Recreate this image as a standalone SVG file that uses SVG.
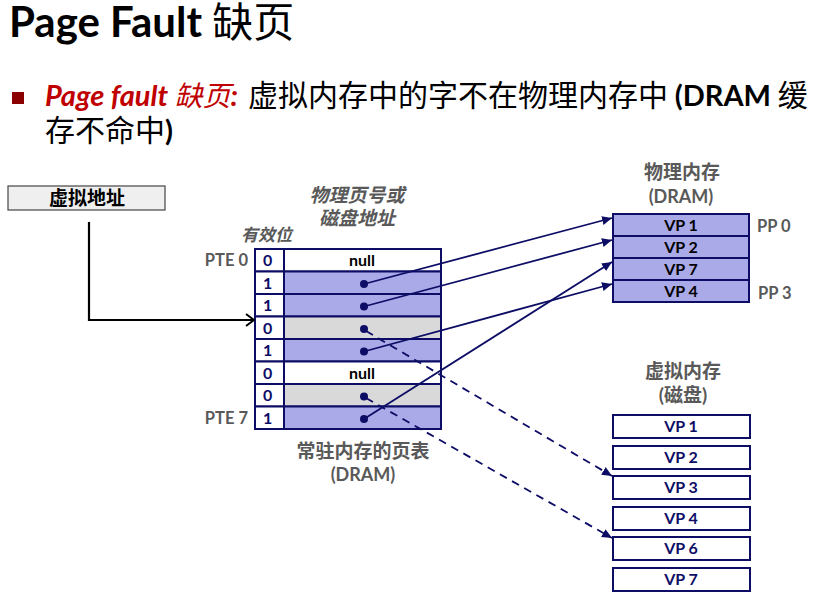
<svg xmlns="http://www.w3.org/2000/svg" width="829" height="602" viewBox="0 0 829 602">
<style>
.lat{font-family:Lato,"Noto Sans CJK SC",sans-serif}
.cjk{font-family:"Noto Sans CJK SC",sans-serif}
.gl{font-family:Lato,"Noto Sans CJK SC",sans-serif;font-weight:bold;fill:#595959}
.cell{stroke:#0d0d66;stroke-width:2}
.b{fill:#aaaae8}
.g{fill:#d9d9d9}
.w{fill:#ffffff}
.bit{font-family:Lato,sans-serif;font-weight:bold;font-size:16px;fill:#0d0d66}
.vp{font-family:Lato,sans-serif;font-weight:bold;font-size:16px;text-anchor:middle}
.con{stroke:#0d0d66;stroke-width:1.8;fill:none}
.dash{stroke-dasharray:8,6}
</style>
<defs>
<marker id="ah" markerUnits="userSpaceOnUse" markerWidth="12" markerHeight="10" refX="10" refY="5" orient="auto">
<path d="M0,0.5 L10,5 L0,9.5 Z" fill="#0d0d66"/>
</marker>
<marker id="open" markerUnits="userSpaceOnUse" markerWidth="12" markerHeight="14" refX="10" refY="7" orient="auto">
<path d="M2,1 L10,7 L2,13" fill="none" stroke="#000" stroke-width="2"/>
</marker>
</defs>
<rect width="829" height="602" fill="#fff"/>

<g id="title">
<text x="9" y="37" class="lat" font-size="42" font-weight="bold" fill="#000">Page Fault <tspan class="cjk" font-weight="normal" font-size="41">缺页</tspan></text>
</g>

<g id="bullet">
<rect x="12" y="92" width="12" height="12" fill="#8b0000"/>
<text x="45" y="106" class="lat" font-size="29" font-weight="bold" font-style="italic" fill="#c00000">Page fault <tspan class="cjk" font-weight="normal" font-size="28">缺页</tspan>:</text>
<text x="248" y="106" class="cjk" font-size="30" fill="#000">虚拟内存中的字不在物理内存中 <tspan class="lat" font-weight="bold" font-size="29">(DRAM</tspan> 缓</text>
<text x="45" y="141" class="cjk" font-size="30" fill="#000">存不命中<tspan class="lat" font-weight="bold" font-size="29">)</tspan></text>
</g>

<g id="vaddr">
<rect x="8" y="186" width="157" height="24" fill="#efefef" stroke="#444" stroke-width="1.2"/>
<text x="87" y="205" class="cjk" font-size="19" font-weight="bold" text-anchor="middle" fill="#000">虚拟地址</text>
</g>

<g id="pagetable">
<text x="241" y="241" class="gl" font-size="17" font-style="italic">有效位</text>
<text x="357" y="202" class="gl" font-size="19" font-style="italic" text-anchor="middle">物理页号或</text>
<text x="357" y="225" class="gl" font-size="19" font-style="italic" text-anchor="middle">磁盘地址</text>
<text x="248" y="266" class="gl" font-size="16.5" text-anchor="end">PTE 0</text>
<text x="248" y="424" class="gl" font-size="16.5" text-anchor="end">PTE 7</text>

<rect class="cell w" x="255" y="249" width="29" height="22.5"/><rect class="cell w" x="284" y="249" width="157" height="22.5"/>
<rect class="cell w" x="255" y="271.5" width="29" height="22.5"/><rect class="cell b" x="284" y="271.5" width="157" height="22.5"/>
<rect class="cell w" x="255" y="294" width="29" height="22.5"/><rect class="cell b" x="284" y="294" width="157" height="22.5"/>
<rect class="cell w" x="255" y="316.5" width="29" height="22.5"/><rect class="cell g" x="284" y="316.5" width="157" height="22.5"/>
<rect class="cell w" x="255" y="339" width="29" height="22.5"/><rect class="cell b" x="284" y="339" width="157" height="22.5"/>
<rect class="cell w" x="255" y="361.5" width="29" height="22.5"/><rect class="cell w" x="284" y="361.5" width="157" height="22.5"/>
<rect class="cell w" x="255" y="384" width="29" height="22.5"/><rect class="cell g" x="284" y="384" width="157" height="22.5"/>
<rect class="cell w" x="255" y="406.5" width="29" height="22.5"/><rect class="cell b" x="284" y="406.5" width="157" height="22.5"/>

<text class="bit" x="263" y="266">0</text>
<text class="bit" x="263" y="288.5">1</text>
<text class="bit" x="263" y="311">1</text>
<text class="bit" x="263" y="333.5">0</text>
<text class="bit" x="263" y="356">1</text>
<text class="bit" x="263" y="378.5">0</text>
<text class="bit" x="263" y="401">0</text>
<text class="bit" x="263" y="423.5">1</text>

<text class="vp" x="362" y="266" fill="#000">null</text>
<text class="vp" x="362" y="378.5" fill="#000">null</text>

<g fill="#0d0d66">
<circle cx="364" cy="284" r="4"/>
<circle cx="364" cy="306.5" r="4"/>
<circle cx="364" cy="329" r="4"/>
<circle cx="364" cy="351.5" r="4"/>
<circle cx="364" cy="396.5" r="4"/>
<circle cx="364" cy="419" r="4"/>
</g>
<text x="363" y="458" class="gl" font-size="19" text-anchor="middle">常驻内存的页表</text>
<text x="363" y="481" class="gl" font-size="18" text-anchor="middle">(DRAM)</text>
</g>

<g id="physmem">
<text x="682" y="179" class="gl" font-size="19" text-anchor="middle">物理内存</text>
<text x="681" y="203" class="gl" font-size="18" text-anchor="middle">(DRAM)</text>
<rect class="cell b" x="613" y="214" width="136" height="22"/>
<rect class="cell b" x="613" y="236" width="136" height="22"/>
<rect class="cell b" x="613" y="258" width="136" height="22"/>
<rect class="cell b" x="613" y="280" width="136" height="22"/>
<text class="vp" x="681" y="231" fill="#000">VP 1</text>
<text class="vp" x="681" y="253" fill="#000">VP 2</text>
<text class="vp" x="681" y="275" fill="#000">VP 7</text>
<text class="vp" x="681" y="297" fill="#000">VP 4</text>
<text x="757" y="232" class="gl" font-size="16.5">PP 0</text>
<text x="758" y="299" class="gl" font-size="16.5">PP 3</text>
</g>

<g id="disk">
<text x="683" y="378" class="gl" font-size="19" text-anchor="middle">虚拟内存</text>
<text x="683" y="402" class="gl" font-size="19" text-anchor="middle">(磁盘)</text>
<rect class="cell w" x="613" y="415" width="137" height="23"/>
<rect class="cell w" x="613" y="446" width="137" height="23"/>
<rect class="cell w" x="613" y="476" width="137" height="23"/>
<rect class="cell w" x="613" y="507" width="137" height="23"/>
<rect class="cell w" x="613" y="537" width="137" height="23"/>
<rect class="cell w" x="613" y="568" width="137" height="23"/>
<text class="vp" x="681" y="432" fill="#0d0d66">VP 1</text>
<text class="vp" x="681" y="463" fill="#0d0d66">VP 2</text>
<text class="vp" x="681" y="493" fill="#0d0d66">VP 3</text>
<text class="vp" x="681" y="524" fill="#0d0d66">VP 4</text>
<text class="vp" x="681" y="554" fill="#0d0d66">VP 6</text>
<text class="vp" x="681" y="585" fill="#0d0d66">VP 7</text>
</g>

<g id="connectors">
<path d="M89,222 V320 H254" fill="none" stroke="#000" stroke-width="2.2" marker-end="url(#open)"/>
<line class="con" x1="364" y1="284" x2="612" y2="218" marker-end="url(#ah)"/>
<line class="con" x1="364" y1="306.5" x2="612" y2="240" marker-end="url(#ah)"/>
<line class="con" x1="364" y1="351.5" x2="612" y2="284" marker-end="url(#ah)"/>
<line class="con" x1="364" y1="419" x2="612" y2="262" marker-end="url(#ah)"/>
<line class="con dash" x1="366" y1="331" x2="612" y2="476" marker-end="url(#ah)"/>
<line class="con dash" x1="366" y1="398" x2="612" y2="538" marker-end="url(#ah)"/>
</g>
</svg>
